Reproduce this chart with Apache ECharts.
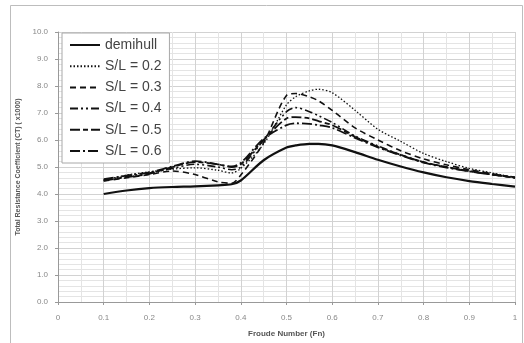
<!DOCTYPE html>
<html>
<head>
<meta charset="utf-8">
<script src="https://cdn.jsdelivr.net/npm/echarts@6/dist/echarts.min.js"></script>
<style>
html, body { margin: 0; padding: 0; background: #fff; }
#chart { width: 524px; height: 343px; }
</style>
</head>
<body>
<div id="chart"></div>
<script>
// Froude numbers sampled along the curves
var fn = [0.1, 0.15, 0.2, 0.25, 0.3, 0.35, 0.38, 0.4, 0.45, 0.5, 0.52, 0.55, 0.57, 0.6, 0.65, 0.7, 0.75, 0.8, 0.85, 0.9, 0.95, 1.0];

var demihull = [4.0, 4.13, 4.22, 4.26, 4.28, 4.32, 4.36, 4.5, 5.25, 5.72, 5.8, 5.86, 5.86, 5.8, 5.55, 5.27, 5.02, 4.8, 4.62, 4.48, 4.37, 4.27];
var sl02 = [4.5, 4.7, 4.82, 4.92, 4.97, 4.88, 4.78, 4.95, 5.85, 7.3, 7.6, 7.82, 7.88, 7.75, 7.1, 6.4, 5.95, 5.5, 5.2, 4.95, 4.78, 4.6];
var sl03 = [4.48, 4.6, 4.72, 4.85, 4.72, 4.45, 4.4, 4.7, 5.9, 7.65, 7.72, 7.6, 7.45, 7.1, 6.45, 6.0, 5.6, 5.3, 5.08, 4.9, 4.75, 4.6];
var sl04 = [4.52, 4.65, 4.78, 4.95, 5.1, 5.0, 4.9, 5.0, 6.0, 7.05, 7.2, 7.05, 6.9, 6.65, 6.15, 5.78, 5.45, 5.18, 5.0, 4.85, 4.72, 4.6];
var sl05 = [4.5, 4.62, 4.75, 5.0, 5.18, 5.1, 5.0, 5.1, 6.0, 6.8, 6.85, 6.8, 6.7, 6.55, 6.12, 5.75, 5.45, 5.18, 5.0, 4.85, 4.72, 4.6];
var sl06 = [4.55, 4.68, 4.8, 5.02, 5.22, 5.1, 5.02, 5.15, 6.05, 6.55, 6.62, 6.6, 6.55, 6.45, 6.08, 5.73, 5.43, 5.16, 4.98, 4.84, 4.72, 4.62];

var names = ["demihull", "S/L = 0.2", "S/L = 0.3", "S/L = 0.4", "S/L = 0.5", "S/L = 0.6"];
var values = [demihull, sl02, sl03, sl04, sl05, sl06];
var dashes = ["solid", [1.5, 2], [6, 4], [8, 3, 2, 3, 2, 3], [10, 3, 5, 3], [10, 3, 2, 3]];
var widths = [2.2, 1.3, 1.6, 1.6, 1.8, 1.8];

function pairs(ys) {
	return fn.map(function (x, i) { return [x, ys[i]]; });
}

var myChart = echarts.init(document.getElementById("chart"));

var series = names.map(function (n, i) {
	return {
		name: n,
		type: "line",
		smooth: 0.3,
		symbol: "none",
		data: pairs(values[i]),
		lineStyle: { color: "#111", width: widths[i], type: dashes[i] },
		itemStyle: { color: "#111" },
	};
});

var option = {
	animation: false,
	textStyle: { fontFamily: "Liberation Sans" },
	graphic: [
		{
			type: "rect",
			shape: { x: 10.5, y: 5.5, width: 512, height: 340 },
			style: { fill: "none", stroke: "#bdbdbd", lineWidth: 1 },
			silent: true,
		},
	],
	grid: { left: 58, right: 9, top: 32, bottom: 36 },
	legend: {
		orient: "vertical",
		left: 62,
		top: 33,
		padding: [5, 8, 5, 7],
		itemWidth: 30,
		itemHeight: 14,
		itemGap: 7.2,
		backgroundColor: "#fff",
		borderColor: "#a8a8a8",
		borderWidth: 1,
		itemStyle: { opacity: 0 },
		textStyle: { fontSize: 14, color: "#444", fontFamily: "Liberation Sans" },
		data: names,
	},
	xAxis: {
		type: "value",
		min: 0,
		max: 1,
		interval: 0.1,
		name: "Froude Number (Fn)",
		nameLocation: "middle",
		nameGap: 28,
		nameTextStyle: { fontSize: 8, fontWeight: "bold", color: "#555" },
		axisLine: { lineStyle: { color: "#999" } },
		axisTick: { show: true, length: 3, lineStyle: { color: "#999" } },
		axisLabel: {
			fontSize: 8,
			color: "#888",
			margin: 12,
			formatter: function (v) { return v === 0 ? "0" : v === 1 ? "1" : v.toFixed(1); },
		},
		splitLine: { show: true, lineStyle: { color: "#d2d2d2", width: 1 } },
		minorTick: { show: false, splitNumber: 2 },
		minorSplitLine: { show: true, lineStyle: { color: "#e4e4e4", width: 1 } },
	},
	yAxis: {
		type: "value",
		min: 0,
		max: 10,
		interval: 1,
		name: "Total Resistance Coefficient (CT) ( x1000)",
		nameLocation: "middle",
		nameGap: 36,
		nameTextStyle: { fontSize: 7, fontWeight: "bold", color: "#555" },
		axisLine: { show: true, lineStyle: { color: "#999" } },
		axisTick: { show: true, length: 3, lineStyle: { color: "#999" } },
		axisLabel: {
			fontSize: 8,
			color: "#888",
			margin: 10,
			formatter: function (v) { return v.toFixed(1); },
		},
		splitLine: { show: true, lineStyle: { color: "#d2d2d2", width: 1 } },
		minorTick: { show: false, splitNumber: 5 },
		minorSplitLine: { show: true, lineStyle: { color: "#e4e4e4", width: 1 } },
	},
	series: series,
};

myChart.setOption(option);
</script>
</body>
</html>
